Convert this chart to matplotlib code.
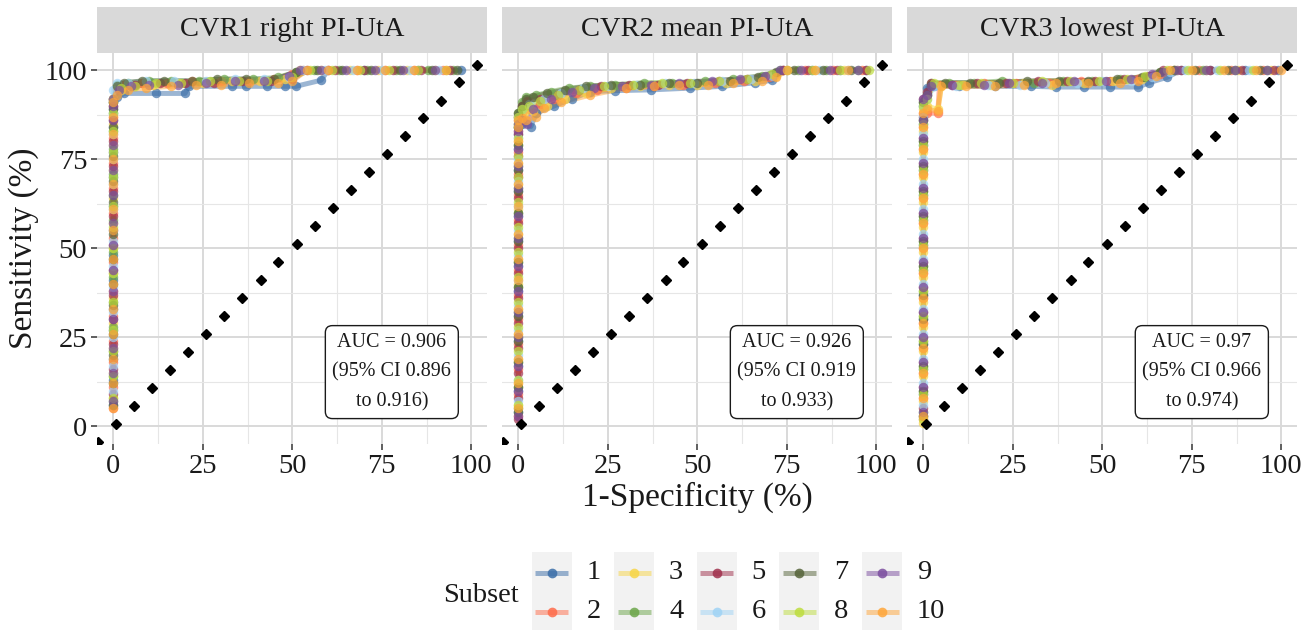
import matplotlib
matplotlib.use("Agg")
import matplotlib.pyplot as plt
from matplotlib.patches import Rectangle
from matplotlib.ticker import MultipleLocator

plt.rcParams['font.family'] = ['Liberation Serif', 'DejaVu Serif']

# ---------------- data ----------------
PANEL_TITLES = ["CVR1 right PI-UtA", "CVR2 mean PI-UtA", "CVR3 lowest PI-UtA"]
AUC_TEXT = ["AUC = 0.906\n(95% CI 0.896\nto 0.916)",
            "AUC = 0.926\n(95% CI 0.919\nto 0.933)",
            "AUC = 0.97\n(95% CI 0.966\nto 0.974)"]
SUBSETS = ["1", "2", "3", "4", "5", "6", "7", "8", "9", "10"]
COLORS = ["#3B6EA8", "#FF6B4A", "#F7D548", "#6CA64A", "#A0304C",
          "#9FD3F5", "#56643A", "#BEDD3E", "#7C4E9F", "#FFA63A"]
X_TICKS = [0, 25, 50, 75, 100]
Y_TICKS = [0, 25, 50, 75, 100]
# reference diagonal (diamond markers)
DIAG = [-4.3, 0.7, 5.8, 10.8, 15.9, 20.9, 26.0, 31.0, 36.0, 41.1, 46.1,
        51.2, 56.2, 61.3, 66.3, 71.3, 76.4, 81.4, 86.5, 91.5, 96.6, 101.6]

# --- CVR1: sensitivities at 1-specificity = 0, then (fpr, tpr) of the rest
P1_COL = [
    [6, 13, 19, 27, 33, 41, 48, 55, 62, 70, 77, 84, 89, 91],
    [5, 11, 18, 24, 31, 38, 46, 53, 60, 67, 74, 81, 87, 92],
    [8, 15, 22, 29, 36, 43, 50, 57, 64, 72, 79, 85, 90, 92],
    [7, 14, 21, 28, 35, 42, 49, 58, 65, 71, 78, 83, 88, 91],
    [9, 16, 23, 30, 37, 44, 51, 59, 66, 73, 80, 86, 90, 92],
    [10, 17, 25, 32, 39, 45, 52, 61, 68, 75, 82, 88, 92, 94.5],
    [6, 12, 20, 26, 34, 40, 47, 54, 63, 69, 76, 84, 89, 91],
    [8, 14, 21, 27, 35, 43, 50, 56, 62, 70, 77, 83, 88, 92],
    [7, 15, 22, 30, 38, 44, 51, 57, 65, 72, 79, 86, 90, 92],
    [5, 12, 19, 26, 33, 40, 47, 55, 61, 68, 75, 82, 87, 91],
]
P1_FPR = [
    [1, 3, 12, 20, 21, 33, 37, 43, 48, 51, 58, 60, 70, 85, 97],
    [1, 3, 8, 15, 22, 30, 38, 45, 50, 53, 60, 68, 76, 84, 92],
    [2, 5, 11, 18, 25, 33, 41, 48, 52, 58, 66, 74, 82, 90],
    [1, 4, 10, 16, 24, 31, 39, 46, 51, 56, 63, 71, 79, 88, 95],
    [1.5, 6, 13, 20, 28, 36, 44, 50, 54, 62, 70, 78, 86, 94],
    [1, 4, 9, 17, 26, 34, 42, 49, 53, 59, 67, 75, 83, 91],
    [1, 3, 8, 14, 22, 29, 37, 45, 51, 57, 64, 72, 80, 89, 96],
    [2, 6, 12, 19, 27, 35, 43, 50, 55, 61, 69, 77, 85, 93],
    [1.5, 5, 10, 18, 26, 34, 42, 49, 52, 58, 65, 73, 81, 90],
    [1, 4, 9, 16, 23, 30, 38, 46, 50, 54, 60, 68, 76, 84, 93],
]
P1_TPR = [
    [92.5, 93.5, 93.5, 93.5, 95.5, 95.5, 95.5, 95.5, 95.5, 95.5, 97.2, 100, 100, 100, 100],
    [95, 96, 96.5, 96.5, 97, 97, 97, 97.5, 99, 100, 100, 100, 100, 100, 100],
    [94.5, 95.5, 96, 96.5, 96.5, 97, 97, 97.5, 100, 100, 100, 100, 100, 100],
    [96, 96.5, 97, 97, 97, 97.5, 97.5, 98, 99.5, 100, 100, 100, 100, 100, 100],
    [95, 96, 96.5, 96.5, 96.5, 97, 97, 97.5, 100, 100, 100, 100, 100, 100],
    [96.5, 96.5, 97, 97, 97, 97.5, 97.5, 98, 100, 100, 100, 100, 100, 100],
    [95.5, 96.5, 97, 97, 97, 97.5, 97.5, 97.5, 99.5, 100, 100, 100, 100, 100, 100],
    [95, 95.5, 96.5, 96.5, 97, 97, 97, 98, 100, 100, 100, 100, 100, 100],
    [94.5, 95.5, 96, 96, 96.5, 97, 97, 98.5, 100, 100, 100, 100, 100, 100],
    [93, 94.5, 95, 95.5, 96, 96, 96.5, 96.5, 97, 100, 100, 100, 100, 100, 100],
]

# --- CVR2
P2_COL = [
    [4, 10, 17, 24, 31, 38, 45, 52, 59, 66, 72, 78, 82, 84],
    [3, 9, 16, 23, 30, 37, 44, 51, 58, 65, 71, 77, 83, 86],
    [6, 12, 19, 26, 33, 40, 47, 54, 61, 68, 74, 80, 85, 87],
    [5, 11, 18, 25, 32, 39, 46, 53, 60, 67, 73, 79, 84, 88],
    [2, 8, 15, 22, 29, 36, 43, 50, 57, 64, 70, 76, 82, 87],
    [7, 13, 20, 27, 34, 41, 48, 55, 62, 69, 75, 81, 85, 87],
    [4, 11, 18, 24, 31, 39, 46, 52, 60, 66, 72, 79, 84, 88],
    [6, 13, 21, 28, 35, 42, 49, 56, 63, 70, 76, 81, 85, 87],
    [3, 10, 17, 25, 32, 38, 45, 53, 59, 67, 73, 78, 83, 85],
    [5, 12, 19, 26, 33, 41, 47, 54, 62, 68, 74, 80, 84, 86],
]
P2_FPR = [
    [1, 3.5, 5, 10, 15, 20, 27, 37, 48, 57, 66, 71, 74, 82, 90, 97],
    [1, 3, 6, 10, 16, 22, 30, 38, 46, 55, 63, 70, 74, 80, 88, 96],
    [1.5, 4, 8, 13, 19, 26, 34, 42, 50, 58, 66, 72, 75, 83, 91],
    [1, 2, 5, 9, 14, 20, 27, 35, 43, 52, 60, 68, 73, 78, 86, 95],
    [1, 2.5, 6, 11, 17, 23, 31, 39, 47, 56, 64, 71, 74, 81, 89, 97],
    [1, 3, 7, 12, 18, 25, 33, 41, 49, 57, 65, 71, 75, 84, 92],
    [1, 2, 4, 8, 13, 19, 26, 34, 42, 50, 59, 67, 72, 77, 85, 93],
    [1, 3, 6, 11, 17, 24, 32, 40, 48, 56, 64, 71, 75, 82, 90, 98],
    [1, 2.3, 4, 9, 15, 21, 29, 37, 45, 54, 62, 69, 73, 79, 87, 95],
    [1, 2, 5, 7, 12, 20, 30, 38, 45, 53, 60, 68, 72, 75, 83, 92],
]
P2_TPR = [
    [85, 84.2, 88, 90, 92, 94, 94.3, 94.5, 95, 95.5, 96.5, 97.2, 100, 100, 100, 100],
    [88, 89, 90.5, 92, 93.5, 94.5, 95, 95.5, 96, 96.5, 97, 98, 100, 100, 100, 100],
    [88, 88.5, 90, 92, 93.5, 95, 95.5, 96, 96, 96.5, 97, 98.5, 100, 100, 100],
    [91, 92.5, 93, 94, 95, 95.5, 96, 96.5, 96.5, 97, 97.5, 98.5, 100, 100, 100, 100],
    [90, 91.5, 92, 93, 94.5, 95.5, 96, 96, 96.5, 97, 97.5, 98.5, 100, 100, 100, 100],
    [89, 90.5, 92, 93.5, 95, 95.5, 96, 96.5, 96.5, 97, 97.5, 98.5, 100, 100, 100],
    [90, 92, 92.5, 93.5, 94.5, 95.5, 96, 96, 96.5, 96.5, 97, 98, 99.5, 100, 100, 100],
    [89, 90, 91.5, 93, 94.5, 95.5, 96, 96.5, 96.5, 97, 97.5, 99, 100, 100, 100, 100],
    [86, 85, 89, 92, 94, 95, 95.5, 96, 96.5, 97, 97.5, 98.5, 100, 100, 100, 100],
    [86.5, 86, 87, 89.5, 91, 93, 95, 95.5, 96, 96, 96.5, 97, 98, 100, 100, 100],
]

# --- CVR3
P3_COL = [
    [3, 9, 16, 23, 30, 37, 44, 51, 58, 65, 72, 79, 85, 90],
    [2, 8, 15, 22, 29, 36, 43, 50, 57, 64, 71, 78, 84, 88],
    [1, 7, 14, 21, 28, 35, 42, 49, 56, 63, 70, 77, 83, 89],
    [4, 10, 17, 24, 31, 38, 45, 52, 59, 66, 73, 80, 86, 91],
    [5, 11, 18, 25, 32, 39, 46, 53, 60, 67, 74, 81, 87, 92],
    [6, 12, 19, 26, 33, 40, 47, 54, 61, 68, 75, 82, 87, 90],
    [3, 10, 17, 23, 30, 37, 45, 52, 59, 66, 73, 80, 86, 91],
    [2, 9, 16, 24, 31, 38, 44, 51, 58, 65, 72, 79, 85, 90],
    [4, 11, 18, 25, 32, 39, 46, 53, 60, 67, 74, 81, 86, 92],
    [3, 8, 15, 22, 29, 36, 43, 50, 57, 64, 71, 78, 84, 88],
]
P3_FPR = [
    [1, 3, 10, 20, 30, 37, 45, 52, 60, 63, 68, 72, 80, 90, 99],
    [1, 4, 4.5, 9, 17, 26, 35, 44, 52, 60, 66, 70, 77, 86, 95],
    [1, 4, 5, 11, 19, 28, 36, 45, 53, 61, 67, 71, 79, 88, 97],
    [1, 2, 7, 14, 22, 31, 39, 47, 55, 62, 66, 70, 78, 87, 96],
    [1, 2, 8, 15, 23, 32, 40, 48, 56, 63, 67, 72, 80, 89, 98],
    [1, 3, 9, 18, 27, 34, 43, 50, 58, 64, 69, 73, 82, 91],
    [1, 2, 6, 13, 21, 29, 38, 46, 54, 61, 66, 70, 76, 85, 94],
    [1, 3, 10, 16, 25, 33, 41, 49, 57, 62, 68, 74, 83, 92],
    [1, 2, 8, 17, 24, 33, 42, 51, 58, 64, 67, 71, 79, 87, 96],
    [1, 4, 5, 12, 20, 28, 37, 46, 55, 60, 65, 69, 75, 84, 93, 100],
]
P3_TPR = [
    [95, 95.5, 95.5, 95.5, 95.5, 95.3, 95.3, 95.3, 95.3, 96.5, 98, 100, 100, 100, 100],
    [88, 88, 96, 96, 96.5, 96.5, 96.5, 97, 97, 97.5, 99, 100, 100, 100, 100],
    [90, 89, 95.5, 96, 96, 96.5, 96, 96.5, 97, 97.5, 99.5, 100, 100, 100, 100],
    [93, 96.5, 96.5, 96.5, 97, 96.5, 97, 97, 97.5, 98, 99.5, 100, 100, 100, 100],
    [94, 96.5, 96, 96.5, 96.5, 97, 97, 97, 97.5, 98.5, 100, 100, 100, 100, 100],
    [92, 95.5, 95.5, 96, 96, 96.5, 96.5, 97, 97, 98, 99.5, 100, 100, 100],
    [93, 96, 96.5, 96.5, 96.5, 97, 97, 97, 97.5, 98, 99.5, 100, 100, 100, 100],
    [92, 96.5, 96, 96.5, 96.5, 97, 97, 97, 97.5, 98.5, 100, 100, 100, 100],
    [93, 95.5, 96, 96, 96.5, 96.5, 97, 97, 97.5, 99, 99.5, 100, 100, 100, 100],
    [89, 88.5, 95.5, 95.5, 95.5, 96, 96.5, 96.5, 96.5, 97, 98.5, 100, 100, 100, 100, 100],
]

PANELS = [(P1_COL, P1_FPR, P1_TPR), (P2_COL, P2_FPR, P2_TPR), (P3_COL, P3_FPR, P3_TPR)]

# ---------------- figure ----------------
W, H = 1306, 631
fig = plt.figure(figsize=(W / 100, H / 100), dpi=100)
fig.patch.set_facecolor("white")

panel_left = [97, 502, 907]
panel_w = 390
panel_top, panel_bot = 52.5, 444
strip_top = 7

FS = 20.5
TXT = "#1A1A1A"
for p, (cols, fprs, tprs) in enumerate(PANELS):
    L = panel_left[p]
    ax = fig.add_axes([L / W, 1 - panel_bot / H, panel_w / W, (panel_bot - panel_top) / H])
    ax.set_xlim(-4.6, 104.4)
    ax.set_ylim(-5, 105)
    ax.set_facecolor("white")
    for s in ax.spines.values():
        s.set_visible(False)
    ax.xaxis.set_minor_locator(MultipleLocator(12.5))
    ax.yaxis.set_minor_locator(MultipleLocator(12.5))
    ax.set_xticks(X_TICKS)
    ax.set_yticks(Y_TICKS)
    ax.grid(which="major", color="#D9D9D9", linewidth=1.4)
    ax.grid(which="minor", color="#E6E6E6", linewidth=0.8)
    ax.set_axisbelow(True)
    ax.tick_params(which="major", length=4, width=1.1, color="#333333",
                   labelsize=FS, labelcolor=TXT, pad=3)
    ax.tick_params(which="minor", length=0)
    if p > 0:
        ax.tick_params(axis="y", labelleft=False, length=0)

    # curves: lines first, then points
    xs_all, ys_all = [], []
    for k in range(len(SUBSETS)):
        xs = [0] * len(cols[k]) + fprs[k]
        ys = cols[k] + tprs[k]
        xs_all.append(xs)
        ys_all.append(ys)
        ax.plot(xs, ys, color=COLORS[k], lw=3.6, alpha=0.5,
                solid_capstyle="round", solid_joinstyle="round", zorder=2)
    for k in range(len(SUBSETS)):
        ax.plot(xs_all[k], ys_all[k], ls="none", marker="o", ms=6.8,
                mfc=COLORS[k], mec="none", alpha=0.7, zorder=3)

    ax.plot(DIAG, DIAG, ls="none", marker="D", ms=5, color="black", zorder=4)

    ax.text(77.8, 15.2, AUC_TEXT[p], ha="center", va="center", fontsize=14.5,
            color=TXT, linespacing=1.75, zorder=5,
            bbox=dict(boxstyle="round,pad=0.35,rounding_size=0.35",
                      fc="white", ec="#1A1A1A", lw=1.0))

    # strip
    sax = fig.add_axes([L / W, 1 - panel_top / H, panel_w / W, (panel_top - strip_top) / H])
    sax.set_facecolor("#D9D9D9")
    sax.set_xticks([])
    sax.set_yticks([])
    for s in sax.spines.values():
        s.set_visible(False)
    sax.text(0.5, 0.5, PANEL_TITLES[p], ha="center", va="center",
             fontsize=FS, color=TXT, transform=sax.transAxes)

fig.text(24 / W, 1 - 248 / H, "Sensitivity (%)", rotation=90, ha="center",
         va="center", fontsize=24, color=TXT)
fig.text(697 / W, 1 - 497 / H, "1-Specificity (%)", ha="center", va="center",
         fontsize=24, color=TXT)

# ---------------- legend ----------------
lax = fig.add_axes([0, 0, 1, 1], zorder=-1)
lax.set_xlim(0, W)
lax.set_ylim(H, 0)
lax.axis("off")
lax.text(443, 595, "Subset", ha="left", va="center", fontsize=FS, color=TXT)
key_left = [531.7, 614, 696.5, 779, 862]
row_top = [551.7, 591]
for k in range(len(SUBSETS)):
    c, r = k // 2, k % 2
    x0, y0 = key_left[c], row_top[r]
    lax.add_patch(Rectangle((x0, y0), 40, 39.3, facecolor="#F2F2F2", edgecolor="none"))
    yc = y0 + 21
    lax.plot([x0 + 3.5, x0 + 36.5], [yc, yc], color=COLORS[k], lw=3.6, alpha=0.5,
             solid_capstyle="butt")
    lax.plot([x0 + 20], [yc], ls="none", marker="o", ms=7, mfc=COLORS[k], mec="none",
             alpha=0.85)
    lax.text(x0 + 55, yc, SUBSETS[k], ha="left", va="center", fontsize=FS, color=TXT)

fig.savefig("out.png", dpi=100, facecolor="white")
